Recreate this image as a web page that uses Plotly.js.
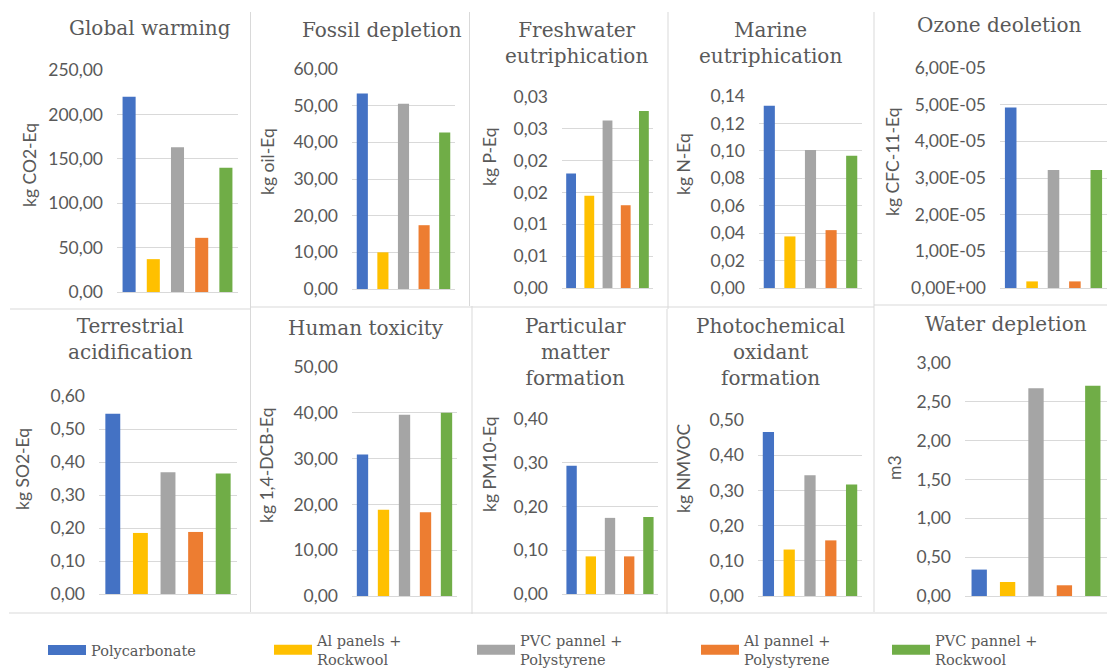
<!DOCTYPE html>
<html><head><meta charset="utf-8">
<script src="https://cdn.plot.ly/plotly-3.0.1.min.js"></script>
<style>html,body{margin:0;padding:0;background:#fff;}#chart{width:1107px;height:670px;}</style>
</head><body><div id="chart"></div>
<script>
// ---------- DATA ----------
const seriesNames = ['Polycarbonate', 'Al panels + Rockwool', 'PVC pannel + Polystyrene', 'Al pannel + Polystyrene', 'PVC pannel + Rockwool'];
const legendLabels = ['Polycarbonate', 'Al panels +<br>Rockwool', 'PVC pannel +<br>Polystyrene', 'Al pannel +<br>Polystyrene', 'PVC pannel +<br>Rockwool'];
const seriesColors = ['#4472C4', '#FFC000', '#A5A5A5', '#ED7D31', '#70AD47'];

const panelTitles = ['Global warming', 'Fossil depletion', 'Freshwater<br>eutriphication', 'Marine<br>eutriphication', 'Ozone deoletion',
  'Terrestrial<br>acidification', 'Human toxicity', 'Particular<br>matter<br>formation', 'Photochemical<br>oxidant<br>formation', 'Water depletion'];
const unitLabels = ['kg CO2-Eq', 'kg oil-Eq', 'kg P-Eq', 'kg N-Eq', 'kg CFC-11-Eq', 'kg SO2-Eq', 'kg 1,4-DCB-Eq', 'kg PM10-Eq', 'kg NMVOC', 'm3'];

// values in series order
const globalWarming = [220, 37, 163, 61, 140];
const fossilDepletion = [53.3, 10.0, 50.5, 17.4, 42.7];
const freshwaterEutriphication = [0.0180, 0.0145, 0.0263, 0.0130, 0.0278];
const marineEutriphication = [0.1328, 0.0376, 0.1007, 0.0422, 0.0964];
const ozoneDepletion = [4.92e-5, 0.18e-5, 3.22e-5, 0.18e-5, 3.22e-5];
const terrestrialAcidification = [0.546, 0.185, 0.369, 0.188, 0.365];
const humanToxicity = [30.9, 18.85, 39.6, 18.3, 40.0];
const particularMatter = [0.293, 0.086, 0.174, 0.086, 0.176];
const photochemicalOxidant = [0.466, 0.132, 0.343, 0.158, 0.317];
const waterDepletion = [0.34, 0.18, 2.676, 0.138, 2.706];

// tick values and labels
const ticksGlobalWarming = [0, 50, 100, 150, 200, 250];
const labelsGlobalWarming = ['0,00', '50,00', '100,00', '150,00', '200,00', '250,00'];
const ticksFossil = [0, 10, 20, 30, 40, 50, 60];
const labelsFossil = ['0,00', '10,00', '20,00', '30,00', '40,00', '50,00', '60,00'];
const ticksFreshwater = [0, 0.005, 0.01, 0.015, 0.02, 0.025, 0.03];
const labelsFreshwater = ['0,00', '0,01', '0,01', '0,02', '0,02', '0,03', '0,03'];
const ticksMarine = [0, 0.02, 0.04, 0.06, 0.08, 0.10, 0.12, 0.14];
const labelsMarine = ['0,00', '0,02', '0,04', '0,06', '0,08', '0,10', '0,12', '0,14'];
const ticksOzone = [0, 1e-5, 2e-5, 3e-5, 4e-5, 5e-5, 6e-5];
const labelsOzone = ['0,00E+00', '1,00E-05', '2,00E-05', '3,00E-05', '4,00E-05', '5,00E-05', '6,00E-05'];
const ticksTerrestrial = [0, 0.1, 0.2, 0.3, 0.4, 0.5, 0.6];
const labelsTerrestrial = ['0,00', '0,10', '0,20', '0,30', '0,40', '0,50', '0,60'];
const ticksHuman = [0, 10, 20, 30, 40, 50];
const labelsHuman = ['0,00', '10,00', '20,00', '30,00', '40,00', '50,00'];
const ticksParticular = [0, 0.1, 0.2, 0.3, 0.4];
const labelsParticular = ['0,00', '0,10', '0,20', '0,30', '0,40'];
const ticksPhotochemical = [0, 0.1, 0.2, 0.3, 0.4, 0.5];
const labelsPhotochemical = ['0,00', '0,10', '0,20', '0,30', '0,40', '0,50'];
const ticksWater = [0, 0.5, 1, 1.5, 2, 2.5, 3];
const labelsWater = ['0,00', '0,50', '1,00', '1,50', '2,00', '2,50', '3,00'];

// ---------- BUILD ----------
const panelValues = [globalWarming, fossilDepletion, freshwaterEutriphication, marineEutriphication, ozoneDepletion,
  terrestrialAcidification, humanToxicity, particularMatter, photochemicalOxidant, waterDepletion];
const panelTicks = [ticksGlobalWarming, ticksFossil, ticksFreshwater, ticksMarine, ticksOzone,
  ticksTerrestrial, ticksHuman, ticksParticular, ticksPhotochemical, ticksWater];
const panelTickLabels = [labelsGlobalWarming, labelsFossil, labelsFreshwater, labelsMarine, labelsOzone,
  labelsTerrestrial, labelsHuman, labelsParticular, labelsPhotochemical, labelsWater];

const W = 1107, H = 670;
// plot-area boxes in pixels [left, right, top, bottom]
const boxes = [
  [117, 238, 70, 292], [352, 455, 69, 289], [562, 653, 97, 288], [759, 862, 96, 288], [1000, 1107, 68, 288],
  [99, 237, 396, 594], [352, 457, 367, 596], [562, 658, 419, 594], [758, 862, 420, 596], [965, 1107, 363, 596]
];
// title centres [x, y]
const titlePos = [[150, 28], [382, 30], [576, 43], [770, 43], [999, 25], [130, 339], [366, 328], [575, 352], [770, 352], [1006, 324]];
// unit label centres [x, y]
const unitPos = [[30, 165], [268, 162], [489, 157], [684, 164], [893, 162], [23, 469], [266, 465], [489, 464], [683, 468], [894, 468]];

const traces = [];
const layout = {
  width: W, height: H,
  margin: {l: 0, r: 0, t: 0, b: 0, pad: 0, autoexpand: false},
  paper_bgcolor: '#ffffff', plot_bgcolor: 'rgba(0,0,0,0)',
  font: {family: 'Lato, sans-serif', color: '#595959', size: 16},
  barmode: 'group', bargap: 0, bargroupgap: 0.46,
  showlegend: true,
  annotations: [], shapes: []
};

panelValues.forEach((vals, p) => {
  const sfx = p === 0 ? '' : String(p + 1);
  const b = boxes[p];
  const tv = panelTicks[p];
  seriesNames.forEach((name, s) => {
    traces.push({
      type: 'bar', x: ['c'], y: [vals[s]], name: name,
      xaxis: 'x' + sfx, yaxis: 'y' + sfx,
      marker: {color: seriesColors[s]},
      legendgroup: 'g' + s, showlegend: false,
      hovertemplate: name + ': %{y}<extra></extra>'
    });
  });
  layout['xaxis' + sfx] = {
    domain: [b[0] / W, b[1] / W], anchor: 'y' + sfx,
    showticklabels: false, showgrid: false, zeroline: false, showline: false, ticks: '', fixedrange: true
  };
  layout['yaxis' + sfx] = {
    domain: [1 - b[3] / H, 1 - b[2] / H], anchor: 'x' + sfx,
    range: [0, tv[tv.length - 1]], tickvals: tv, ticktext: panelTickLabels[p],
    showgrid: true, gridcolor: '#d9d9d9', gridwidth: 1,
    zeroline: true, zerolinecolor: '#d9d9d9', zerolinewidth: 1,
    showline: false, ticks: '', ticklabelstandoff: 13,
    tickfont: {family: 'Lato, sans-serif', size: 17.5, color: '#595959'}, fixedrange: true
  };
  layout.annotations.push({
    text: panelTitles[p], xref: 'paper', yref: 'paper',
    x: titlePos[p][0] / W, y: 1 - titlePos[p][1] / H, xanchor: 'center', yanchor: 'middle',
    showarrow: false, font: {family: 'DejaVu Serif, serif', size: 20, color: '#595959'}
  });
  layout.annotations.push({
    text: unitLabels[p], xref: 'paper', yref: 'paper', textangle: -90,
    x: unitPos[p][0] / W, y: 1 - unitPos[p][1] / H, xanchor: 'center', yanchor: 'middle',
    showarrow: false, font: {family: 'Lato, sans-serif', size: 17.5, color: '#595959'}
  });
});

// legend proxies (one legend box per series, placed like the original)
const legendX = [48, 274, 477, 701, 892];
seriesNames.forEach((name, s) => {
  const lg = s === 0 ? 'legend' : 'legend' + (s + 1);
  traces.push({
    type: 'scatter', mode: 'lines', x: [null], y: [null], name: legendLabels[s],
    line: {color: seriesColors[s], width: 10}, legend: lg, legendgroup: 'g' + s,
    showlegend: true, hoverinfo: 'skip'
  });
  layout[lg] = {
    x: (legendX[s] - 5) / W, xanchor: 'left', y: 1 - 650 / H, yanchor: 'middle',
    bgcolor: 'rgba(0,0,0,0)', borderwidth: 0, orientation: 'v', itemwidth: 38,
    font: {family: 'DejaVu Serif, serif', size: 14.5, color: '#595959'}
  };
});

// thin chart-object borders
const borderLines = [
  [250.5, 12, 250.5, 612], [469.5, 12, 469.5, 306], [472, 306, 472, 614], [668, 12, 668, 309], [667, 309, 667, 614],
  [874, 12, 874, 612], [10, 309, 250, 309], [250, 307, 874, 307], [874, 305, 1107, 305], [9, 613, 1107, 613]
];
borderLines.forEach(l => layout.shapes.push({
  type: 'line', xref: 'paper', yref: 'paper', x0: l[0] / W, y0: 1 - l[1] / H, x1: l[2] / W, y1: 1 - l[3] / H,
  line: {color: '#d9d9d9', width: 1}, layer: 'below'
}));

Plotly.newPlot('chart', traces, layout, {displayModeBar: false, staticPlot: false, responsive: false});
</script>
</body></html>
